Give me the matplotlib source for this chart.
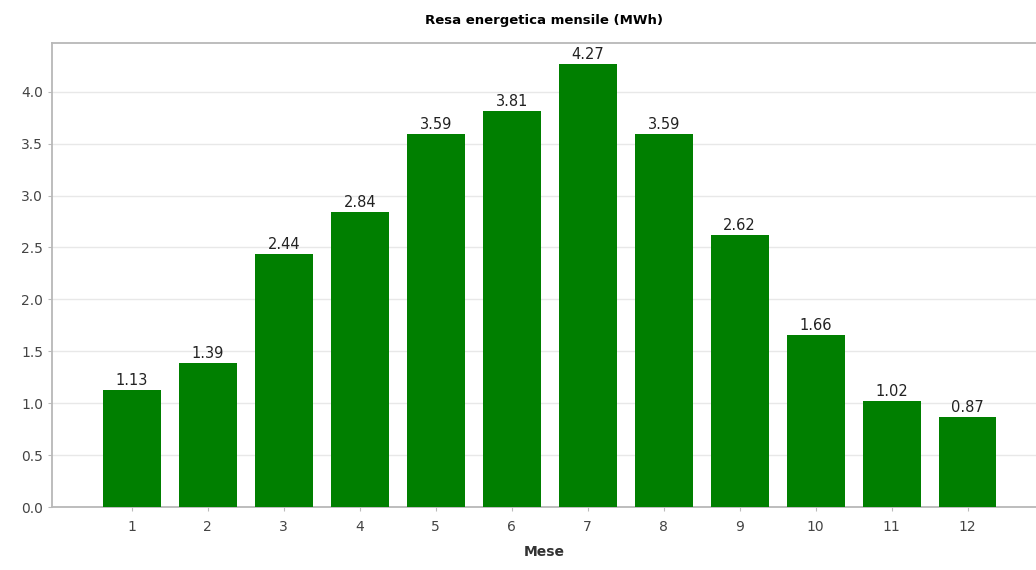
import numpy as np
import matplotlib
matplotlib.use("Agg")
import matplotlib.pyplot as plt

# monthly energy yield (MWh)
mesi = [1, 2, 3, 4, 5, 6, 7, 8, 9, 10, 11, 12]
resa = [1.13, 1.39, 2.44, 2.84, 3.59, 3.81, 4.27, 3.59, 2.62, 1.66, 1.02, 0.87]
yticks = [0.0, 0.5, 1.0, 1.5, 2.0, 2.5, 3.0, 3.5, 4.0]

fig = plt.figure(figsize=(10.36, 5.70), dpi=100)
ax = fig.add_axes([0.0502, 0.1105, 0.9498, 0.8141])

bars = ax.bar(mesi, resa, width=0.76, color="#007f00", zorder=3)
for b, v in zip(bars, resa):
    ax.text(b.get_x() + b.get_width() / 2, v + 0.02, "%.2f" % v,
            ha="center", va="bottom", fontsize=10.5, color="#222222", zorder=4)

ax.set_xlim(-0.05, 12.9)
ax.set_ylim(0, 4.47)
ax.set_xticks(mesi)
ax.set_yticks(yticks)
ax.set_yticklabels(["%.1f" % t for t in yticks])
ax.grid(axis="y", color="#e8e8e8", linewidth=1, zorder=0)
ax.tick_params(axis="both", labelsize=10, labelcolor="#444444", color="#bbbbbb", length=3)
ax.tick_params(axis="x", pad=6)

for s in ["left", "bottom", "top"]:
    ax.spines[s].set_color("#b8b8b8")
    ax.spines[s].set_linewidth(1.3)
ax.spines["right"].set_visible(False)

ax.set_title("Resa energetica mensile (MWh)", fontsize=9.5, fontweight="bold", pad=14)
ax.set_xlabel("Mese", fontsize=10, fontweight="bold", color="#333333", labelpad=8)

fig.savefig("out.png", dpi=100)
